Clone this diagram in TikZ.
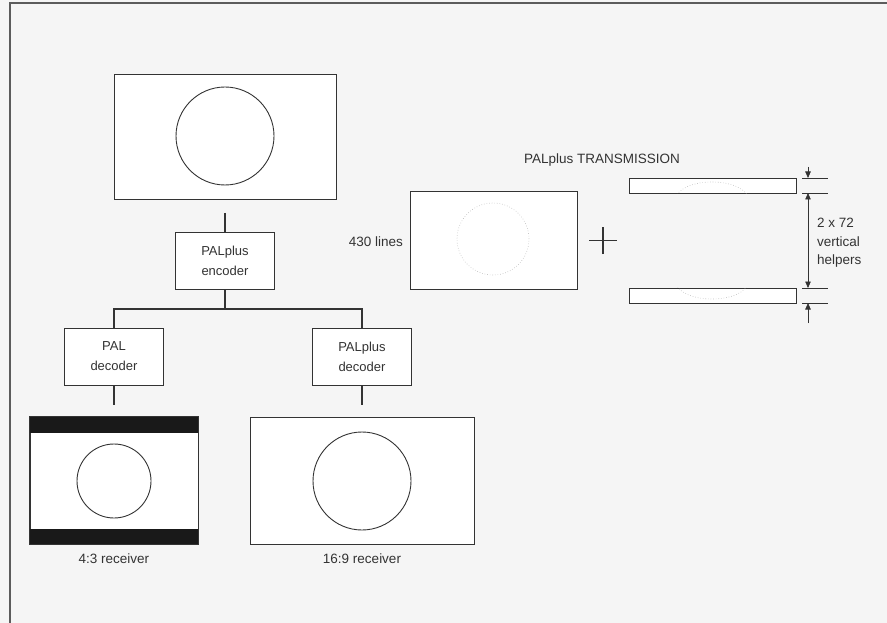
\documentclass[tikz,border=0pt]{standalone}
\usepackage{fontspec}
\setmainfont{Liberation Sans}
\usetikzlibrary{arrows.meta}
\definecolor{ink}{HTML}{333333}
\definecolor{paper}{HTML}{F5F5F5}
\definecolor{faint}{HTML}{BBBBBB}
\begin{document}
\begin{tikzpicture}[x=1pt,y=-1pt,
  frame/.style={draw=ink!80,line width=1.3pt},
  screen/.style={draw=ink,line width=0.9pt,fill=white,inner sep=0pt,rectangle},
  disc/.style={draw=ink,line width=0.9pt,circle,inner sep=0pt},
  blockbox/.style={draw=ink,line width=0.9pt,fill=white,align=center,inner sep=0pt,
    minimum width=99pt,minimum height=57pt,font=\fontsize{13}{20}\selectfont,text=ink},
  wire/.style={draw=ink,line width=1.8pt},
  lbl/.style={font=\fontsize{13.5}{19}\selectfont,text=ink,inner sep=0pt,align=left},
  dim/.style={draw=ink,line width=0.7pt},
  dimarrow/.style={dim,-{Triangle[length=6.5pt,width=5.5pt]}},
  helperbar/.style={draw=ink,line width=0.9pt,fill=white,rectangle,inner sep=0pt,minimum width=167pt,minimum height=15pt}
]
\useasboundingbox (0,0) rectangle (887,623);
\fill[paper] (0,0) rectangle (887,623);
% page frame
\draw[frame] (10,623) -- (10,3) -- (887,3);

% source picture
\node[screen,minimum width=222pt,minimum height=125pt] (src) at (225,136.5) {};
\node[disc,minimum size=98pt] (srcc) at (225,136) {};
\coordinate (srcout) at (225,213);

% encoder
\node[blockbox] (enc) at (225,260.5) {PALplus\\encoder};
\draw[wire] (srcout) -- (enc.north);
\draw[wire] (enc.south) -- ++(0,19.5) coordinate (split);

% decoders
\node[blockbox] (pal) at (114,356.5) {PAL\\decoder};
\node[blockbox] (palp) at (362,357) {PALplus\\decoder};
\draw[wire] (pal.north) |- (split);
\draw[wire] (palp.north) |- (split);
\coordinate (palout) at (114,405);
\coordinate (palpout) at (362,405);
\draw[wire] (pal.south) -- (palout);
\draw[wire] (palp.south) -- (palpout);

% 4:3 receiver
\node[screen,minimum width=168pt,minimum height=127pt] (rx43) at (114,480.5) {};
\fill[black!90] (rx43.north west) rectangle ([yshift=-16pt]rx43.north east);
\fill[black!90] ([yshift=15pt]rx43.south west) rectangle (rx43.south east);
\draw[ink,line width=0.9pt] (rx43.north west) rectangle (rx43.south east);
\node[disc,minimum size=74pt] (rx43c) at (114,481) {};
\node[lbl] (rx43l) at (114,559) {4:3 receiver};

% 16:9 receiver
\node[screen,minimum width=224pt,minimum height=127pt] (rx169) at (362,480.5) {};
\node[disc,minimum size=98pt] (rx169c) at (362,481) {};
\node[lbl] (rx169l) at (362,559) {16:9 receiver};

% transmission
\node[lbl] (title) at (602,160) {PALplus TRANSMISSION};
\node[lbl,anchor=east] (lines) at (403,242) {430 lines};
\node[screen,minimum width=167pt,minimum height=98pt] (tx) at (493.5,240) {};
\node[draw=faint,dotted,line width=0.6pt,circle,minimum size=72pt,inner sep=0pt] (txc) at (493,239) {};
\coordinate (plusc) at (603,240.5);
\draw[ink,line width=1.3pt] ([xshift=-14pt]plusc) -- ([xshift=14pt]plusc);
\draw[ink,line width=1.3pt] ([yshift=-13.5pt]plusc) -- ([yshift=13.5pt]plusc);

\node[helperbar] (hb1) at (712.5,185.5) {};
\node[helperbar] (hb2) at (712.5,295.5) {};
\begin{scope}
\clip (hb1.north west) rectangle (hb1.south east);
\draw[faint,dotted,line width=0.6pt] (712,199) ellipse (36pt and 17pt);
\end{scope}
\begin{scope}
\clip (hb2.north west) rectangle (hb2.south east);
\draw[faint,dotted,line width=0.6pt] (712,282) ellipse (36pt and 17pt);
\end{scope}

% dimension
\coordinate (d1) at (808,178);
\coordinate (d2) at (808,193);
\coordinate (d3) at (808,288);
\coordinate (d4) at (808,303);
\coordinate (dtop) at (808,167);
\coordinate (dbot) at (808,323);
\foreach \c in {d1,d2,d3,d4} \draw[dim] ([xshift=-6pt]\c) -- ([xshift=20pt]\c);
\draw[dimarrow] (dtop) -- (d1);
\draw[dim,{Triangle[length=6.5pt,width=5.5pt]}-{Triangle[length=6.5pt,width=5.5pt]}] (d2) -- (d3);
\draw[dimarrow] (dbot) -- (d4);
\node[lbl,anchor=west,font=\fontsize{13.5}{18.5}\selectfont] (dimtxt) at (817,243) {2 x 72\\vertical\\helpers};
\end{tikzpicture}
\end{document}
